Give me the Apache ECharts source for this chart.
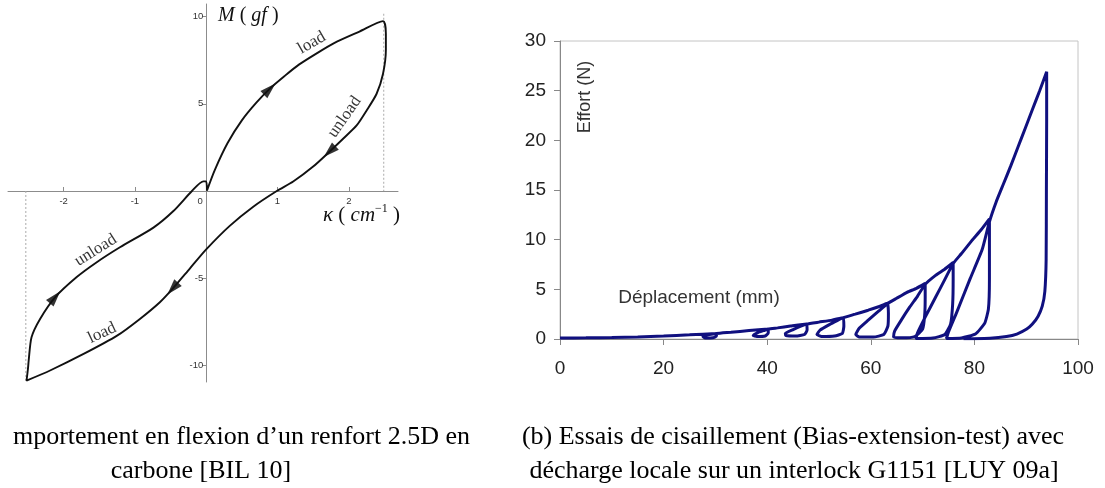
<!DOCTYPE html>
<html>
<head>
<meta charset="utf-8">
<script src="https://cdn.jsdelivr.net/npm/echarts@6/dist/echarts.min.js"></script>
<style>
html, body { margin: 0; padding: 0; background: #fff; }
#main { width: 1105px; height: 488px; }
</style>
</head>
<body>
<div id="main"></div>
<script>
// (a) flexion : courbure / moment
var flexK = [0.01, 0.12, 0.3, 0.5, 0.7, 0.9, 1.1, 1.3, 1.55, 1.8, 2.15, 2.48,
	2.52, 2.52, 2.48, 2.39, 2.25, 2.11, 1.92, 1.73, 1.5, 1.22, 0.99, 0.66, 0.33, 0, -0.23, -0.47, -0.65, -0.93, -1.25, -1.72, -2.19, -2.52,
	-2.5, -2.49, -2.45, -2.33, -2.12, -1.82, -1.54, -1.21, -0.74, -0.46, -0.2, -0.04, 0, 0.01];
var flexM = [0.02, 1.2, 2.75, 4.05, 5.05, 5.9, 6.6, 7.25, 7.9, 8.5, 9.15, 9.75,
	9.02, 8.1, 6.73, 5.58, 4.62, 3.76, 3.0, 2.26, 1.4, 0.54, 0, -0.9, -2.0, -3.35, -4.45, -5.6, -6.38, -7.34, -8.3, -9.35, -10.3, -10.88,
	-10.2, -9.73, -8.39, -7.34, -6.1, -4.95, -4.1, -3.23, -2.1, -1.15, 0, 0.55, 0.55, 0.02];
var arrowK = [0.89, 1.73, -0.47, -2.12];
var arrowM = [5.85, 2.26, -5.6, -6.1];
var tagK = [1.48, 1.94, -1.55, -1.46];
var tagM = [8.5, 4.25, -3.4, -8.15];
var tagText = ['load', 'unload', 'unload', 'load'];
var tagAngle = [30, 55, 32, 25];
var guideTop = [[2.49, 10.17], [2.49, 0]];
var guideBottom = [[-2.53, 0], [-2.53, -10.88]];
var flexTicksK = [-2, -1, 0, 1, 2];
var flexTicksM = [-10, -5, 5, 10];
var flexRangeK = [-2.78, 2.69];
var flexRangeM = [-10.96, 10.73];

// (b) bias-extension : deplacement / effort
var shearX = [0, 5, 10, 15, 20, 25, 30.2,
	30.2, 29.5, 28, 27.6, 28.5, 30.2,
	33, 36.5, 40.2,
	40.2, 39.6, 38, 37.3, 38.2, 39.5, 40.2,
	42, 44.5, 47.6,
	47.7, 47.2, 45.5, 43.6, 43.5, 45, 46.5, 47.6,
	50, 52.5, 54.7,
	54.8, 54.5, 53, 50.5, 49.6, 50.2, 52, 53.5, 54.7,
	57, 59.5, 61.5, 63.2,
	63.4, 63.3, 62.5, 60.5, 57.8, 57.1, 57.8, 59.5, 61.5, 63.2,
	65, 67, 68.8, 70.5,
	70.5, 70.4, 70, 68.5, 66, 64.4, 64.6, 66, 67.5, 69, 70.5,
	72.5, 74.2, 75.9,
	75.9, 75.8, 75.4, 74.3, 72, 68.7, 69, 70.5, 72.5, 74.3, 75.9,
	77.5, 79.5, 81.3, 82.9,
	82.9, 82.9, 82.7, 82.0, 80.2, 77.5, 74.6, 75, 76.6, 79.2, 81.5, 82.9,
	84.2, 85.6, 87.0, 88.4, 89.8, 91.2, 92.6, 93.95,
	93.95, 93.9, 93.85, 93.6, 93.1, 92.3, 91.2, 90.1, 88.2, 86.2, 83, 77.9];
var shearY = [0.1, 0.12, 0.15, 0.2, 0.3, 0.42, 0.55,
	0.3, 0.12, 0.1, 0.25, 0.42, 0.55,
	0.68, 0.85, 1.0,
	0.6, 0.3, 0.25, 0.35, 0.65, 0.88, 1.0,
	1.12, 1.3, 1.5,
	0.9, 0.45, 0.3, 0.35, 0.55, 0.95, 1.3, 1.5,
	1.7, 1.9, 2.15,
	1.3, 0.55, 0.3, 0.25, 0.45, 0.9, 1.45, 1.85, 2.15,
	2.5, 2.9, 3.25, 3.6,
	2.6, 1.3, 0.45, 0.2, 0.2, 0.45, 1.1, 1.9, 2.8, 3.55,
	4.1, 4.7, 5.1, 5.6,
	4.2, 2.4, 1.0, 0.25, 0.12, 0.2, 0.8, 2.0, 3.2, 4.3, 5.5,
	6.4, 7.0, 7.7,
	6.0, 3.5, 1.5, 0.45, 0.1, 0.05, 0.6, 2.2, 4.2, 6.0, 7.6,
	8.6, 9.9, 11.0, 12.1,
	10, 6, 3.0, 1.6, 0.5, 0.1, 0.05, 0.7, 2.7, 6.1, 9.0, 11.8,
	13.8, 15.6, 17.4, 19.3, 21.2, 23.1, 25.0, 26.9,
	22, 15, 8, 4.8, 3.3, 2.3, 1.5, 1.0, 0.5, 0.25, 0.08, 0.02];

function zip(a, b) {
	return a.map(function (v, i) { return [v, b[i]]; });
}

var serif = '"Liberation Serif", "DejaVu Serif", serif';
var sans = '"Liberation Sans", Arial, sans-serif';
var greyAxis = '#8c8c8c';

// grid (a) geometry, axes are drawn through the origin
var gA = { left: 8, top: 4, width: 390, height: 378 };
var offX = (0 - flexRangeM[0]) / (flexRangeM[1] - flexRangeM[0]) * gA.height;
var offY = (0 - flexRangeK[0]) / (flexRangeK[1] - flexRangeK[0]) * gA.width;

var chart = echarts.init(document.getElementById('main'));

var option = {
	animation: false,
	backgroundColor: '#fff',
	grid: [
		gA,
		{ left: 560, top: 41, width: 518, height: 298, show: true, borderColor: '#c4c4c4', borderWidth: 1 }
	],
	xAxis: [
		{
			type: 'value', gridIndex: 0, min: flexRangeK[0], max: flexRangeK[1],
			position: 'bottom', offset: -offX,
			axisLine: { onZero: false, lineStyle: { color: greyAxis, width: 1 } },
			axisTick: { inside: true, length: 4, customValues: [-2, -1, 1, 2], lineStyle: { color: greyAxis } },
			axisLabel: {
				customValues: flexTicksK, fontSize: 9.5, color: '#333', margin: 5, fontFamily: sans,
				formatter: function (v) { return v === 0 ? '{z|0}' : String(v); },
				rich: { z: { fontSize: 9.5, color: '#333', fontFamily: sans, padding: [0, 12, 0, 0] } }
			},
			splitLine: { show: false }
		},
		{
			type: 'value', gridIndex: 1, min: 0, max: 100, interval: 20,
			axisLine: { lineStyle: { color: '#888', width: 1 } },
			axisTick: { length: 6, lineStyle: { color: '#888' } },
			axisLabel: { fontSize: 19, color: '#222', margin: 20, fontFamily: sans },
			splitLine: { show: false }
		}
	],
	yAxis: [
		{
			type: 'value', gridIndex: 0, min: flexRangeM[0], max: flexRangeM[1],
			position: 'left', offset: -offY,
			axisLine: { onZero: false, lineStyle: { color: greyAxis, width: 1 } },
			axisTick: { length: 4, customValues: flexTicksM, lineStyle: { color: greyAxis } },
			axisLabel: { customValues: flexTicksM, fontSize: 9.5, color: '#333', margin: 3, fontFamily: sans },
			splitLine: { show: false }
		},
		{
			type: 'value', gridIndex: 1, min: 0, max: 30, interval: 5,
			axisLine: { show: true, lineStyle: { color: '#888', width: 1 } },
			axisTick: { show: true, length: 6, lineStyle: { color: '#888' } },
			axisLabel: { fontSize: 19, color: '#222', margin: 14, fontFamily: sans },
			splitLine: { show: false }
		}
	],
	series: [
		{
			type: 'line', xAxisIndex: 0, yAxisIndex: 0, data: guideTop, showSymbol: false, silent: true,
			lineStyle: { color: '#aaa', width: 1, type: [2, 2] }
		},
		{
			type: 'line', xAxisIndex: 0, yAxisIndex: 0, data: guideBottom, showSymbol: false, silent: true,
			lineStyle: { color: '#aaa', width: 1, type: [2, 2] }
		},
		{
			id: 'flex', type: 'line', xAxisIndex: 0, yAxisIndex: 0, data: zip(flexK, flexM),
			showSymbol: false, smooth: 0.25, lineStyle: { color: '#111', width: 1.9 }
		},
		{
			id: 'arrows', type: 'scatter', xAxisIndex: 0, yAxisIndex: 0,
			data: zip(arrowK, arrowM), symbol: 'triangle', symbolSize: [10, 16],
			itemStyle: { color: '#000' }
		},
		{
			type: 'scatter', xAxisIndex: 0, yAxisIndex: 0, symbolSize: 0, silent: true,
			data: tagK.map(function (k, i) {
				return { value: [k, tagM[i]], label: { rotate: tagAngle[i] } };
			}),
			label: {
				show: true, position: 'inside', color: '#000', fontSize: 17, fontFamily: serif,
				textBorderWidth: 0, textShadowBlur: 0,
				formatter: function (p) { return tagText[p.dataIndex]; }
			}
		},
		{
			type: 'line', xAxisIndex: 1, yAxisIndex: 1, data: zip(shearX, shearY),
			showSymbol: false, smooth: 0.15, lineStyle: { color: '#10107f', width: 3 }
		}
	],
	graphic: [
		{
			type: 'text', left: 218, top: 6,
			style: {
				text: '{i|M} ( {i|gf} )', fill: '#111',
				rich: { i: { fontFamily: serif, fontStyle: 'italic', fontSize: 20 } },
				font: '20px ' + serif
			}
		},
		{
			type: 'text', left: 323, top: 203,
			style: {
				text: '{i|\u03ba} ( {i|cm}{s|\u22121} )', fill: '#111',
				rich: {
					i: { fontFamily: serif, fontStyle: 'italic', fontSize: 21, lineHeight: 24 },
					s: { fontFamily: serif, fontSize: 12, verticalAlign: 'top', lineHeight: 24, padding: [0, 0, 8, 0] }
				},
				font: '21px ' + serif
			}
		},
		{
			type: 'text', x: 585, y: 97, rotation: Math.PI / 2,
			style: { text: 'Effort (N)', fill: '#333', font: '18px ' + sans, align: 'center', verticalAlign: 'middle' }
		},
		{
			type: 'text', x: 699, y: 298,
			style: { text: 'Déplacement (mm)', fill: '#333', font: '19px ' + sans, align: 'center', verticalAlign: 'middle' }
		},
		{
			type: 'text', x: 470, y: 437,
			style: { text: 'mportement en flexion d\u2019un renfort 2.5D en', fill: '#000', font: '26px ' + serif, align: 'right', verticalAlign: 'middle' }
		},
		{
			type: 'text', x: 201, y: 471,
			style: { text: 'carbone [BIL 10]', fill: '#000', font: '26px ' + serif, align: 'center', verticalAlign: 'middle' }
		},
		{
			type: 'text', x: 793, y: 437,
			style: { text: '(b) Essais de cisaillement (Bias-extension-test) avec', fill: '#000', font: '26px ' + serif, align: 'center', verticalAlign: 'middle' }
		},
		{
			type: 'text', x: 794, y: 471,
			style: { text: 'décharge locale sur un interlock G1151 [LUY 09a]', fill: '#000', font: '26px ' + serif, align: 'center', verticalAlign: 'middle' }
		}
	]
};

chart.setOption(option);

// orient the arrow heads along the travel direction of the curve
var curvePx = flexK.map(function (k, i) {
	return chart.convertToPixel({ xAxisIndex: 0, yAxisIndex: 0 }, [k, flexM[i]]);
});
var arrowData = arrowK.map(function (k, j) {
	var p = chart.convertToPixel({ xAxisIndex: 0, yAxisIndex: 0 }, [k, arrowM[j]]);
	var best = 1, bestD = Infinity;
	for (var i = 1; i < curvePx.length - 1; i++) {
		var d = Math.pow(curvePx[i][0] - p[0], 2) + Math.pow(curvePx[i][1] - p[1], 2);
		if (d < bestD) { bestD = d; best = i; }
	}
	var dx = curvePx[best + 1][0] - curvePx[best - 1][0];
	var dy = curvePx[best + 1][1] - curvePx[best - 1][1];
	var ang = Math.atan2(-dy, dx) * 180 / Math.PI;
	return { value: [k, arrowM[j]], symbolRotate: ang - 90 };
});
chart.setOption({ series: [{ id: 'arrows', data: arrowData }] });
</script>
</body>
</html>
